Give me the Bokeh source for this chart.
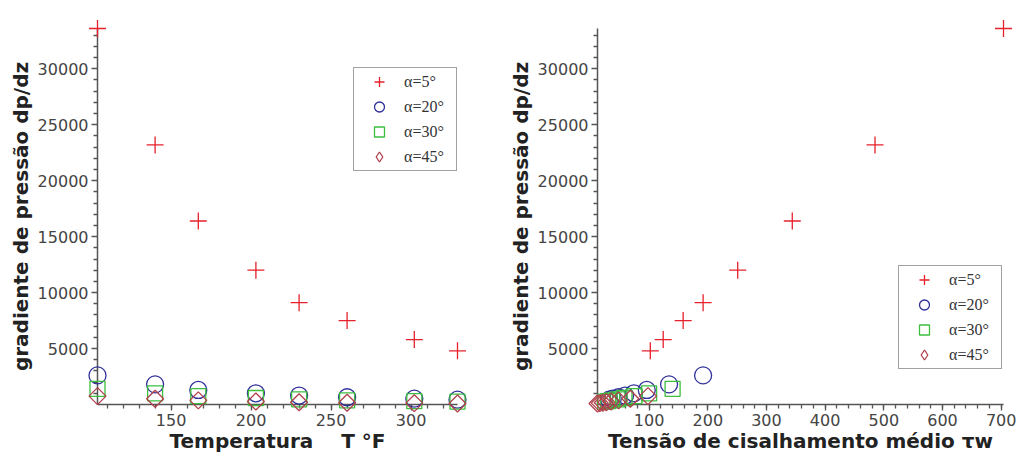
import math
from bokeh.plotting import figure
from bokeh.layouts import row
from bokeh.models import Range1d, FixedTicker, Legend, LegendItem
from bokeh.embed import file_html
from bokeh.resources import INLINE

# ---- data ----
temperature = [104, 140, 167, 203, 230, 260, 302, 329]          # T °F

dp_5 = [33600, 23200, 16400, 12000, 9100, 7500, 5800, 4800]
dp_20 = [2600, 1800, 1300, 1000, 800, 650, 520, 430]
dp_30 = [1400, 1000, 750, 580, 460, 370, 300, 250]
dp_45 = [750, 520, 370, 270, 205, 160, 120, 95]

tau_5 = [704, 485, 344, 251, 192, 158, 124, 102]
tau_20 = [192, 134, 96, 74, 59, 48, 38, 32]
tau_30 = [140, 100, 75, 58, 46, 37, 30, 25]
tau_45 = [98, 68, 48, 35, 27, 21, 16, 12]

series_labels = ["α=5°", "α=20°", "α=30°", "α=45°"]
y_major_ticks = [5000, 10000, 15000, 20000, 25000, 30000]
y_minor_ticks = [1000, 2000, 3000, 4000, 6000, 7000, 8000, 9000, 11000, 12000,
                 13000, 14000, 16000, 17000, 18000, 19000, 21000, 22000, 23000,
                 24000, 26000, 27000, 28000, 29000, 31000, 32000, 33000]

# ---- styles ----
styles = [
    dict(marker="cross", size=17, line_color="#e8202c", line_width=1.3, angle=0.0, legend_marker="cross"),
    dict(marker="circle", size=17, line_color="#30309a", line_width=1.3, angle=0.0, legend_marker="circle"),
    dict(marker="square", size=15, line_color="#3cbf3c", line_width=1.3, angle=0.0, legend_marker="square"),
    dict(marker="square", size=12, line_color="#b0404c", line_width=1.3, angle=math.pi / 4, legend_marker="diamond"),
]

AX = "#555555"
NAN = float("nan")


def build(xs_list, ys_list, x_label, width, min_border_left, min_border_right, legend_loc):
    all_x = [v for xs in xs_list for v in xs]
    all_y = [v for ys in ys_list for v in ys]
    p = figure(width=width, height=457, output_backend="svg", toolbar_location=None,
               x_range=Range1d(min(all_x), max(all_x)),
               y_range=Range1d(0, max(all_y)),
               min_border_left=min_border_left, min_border_right=min_border_right,
               min_border_top=28, min_border_bottom=53)
    p.outline_line_color = None
    p.xgrid.visible = False
    p.ygrid.visible = False
    p.background_fill_color = "white"

    p.yaxis.ticker = FixedTicker(ticks=y_major_ticks, minor_ticks=y_minor_ticks)

    for ax in (p.xaxis, p.yaxis):
        ax.axis_line_color = AX
        ax.axis_line_width = 1.5
        ax.major_tick_line_color = AX
        ax.minor_tick_line_color = AX
        ax.major_tick_line_width = 1.3
        ax.minor_tick_line_width = 1.3
        ax.major_tick_out = 6
        ax.major_tick_in = 0
        ax.minor_tick_out = 4
        ax.minor_tick_in = 0
        ax.major_label_text_font = "DejaVu Sans"
        ax.major_label_text_font_size = "16px"
        ax.major_label_text_color = "#444444"
        ax.axis_label_text_font = "DejaVu Sans"
        ax.axis_label_text_font_size = "20px"
        ax.axis_label_text_font_style = "bold"
        ax.axis_label_text_color = "#222222"
    p.xaxis.major_label_standoff = 3
    p.xaxis.axis_label_standoff = 0
    p.yaxis.major_label_standoff = 3
    p.yaxis.axis_label_standoff = 2
    p.xaxis.axis_label = x_label
    p.yaxis.axis_label = "gradiente de pressão dp/dz"

    items = []
    for xs, ys, st, lab in zip(xs_list, ys_list, styles, series_labels):
        r = p.scatter(xs, ys, marker=st["marker"], size=st["size"], angle=st["angle"],
                      fill_color=None, line_color=st["line_color"],
                      line_width=st["line_width"], level="overlay")
        if st["legend_marker"] != st["marker"]:
            # legend-only renderer (a single undrawn NaN point) so the legend shows a diamond
            r = p.scatter(x=[NAN], y=[NAN], marker=st["legend_marker"], size=st["size"],
                          fill_color=None, line_color=st["line_color"],
                          line_width=st["line_width"])
        items.append(LegendItem(label=lab, renderers=[r]))

    legend = Legend(items=items, location=legend_loc)
    legend.label_text_font = "Liberation Serif"
    legend.label_text_font_size = "16px"
    legend.label_text_color = "#333333"
    legend.border_line_color = "#444444"
    legend.border_line_width = 1.8
    legend.background_fill_color = "white"
    legend.background_fill_alpha = 1.0
    legend.glyph_height = 25
    legend.glyph_width = 48
    legend.label_height = 25
    legend.label_width = 51
    legend.label_standoff = 1
    legend.spacing = 0
    legend.padding = 1
    legend.margin = 0
    p.add_layout(legend)
    return p


left = build([temperature] * 4, [dp_5, dp_20, dp_30, dp_45],
             "Temperatura\u00a0\u00a0\u00a0\u00a0T\u00a0°F", 505, 97, 48, (256, 233))
right = build([tau_5, tau_20, tau_30, tau_45], [dp_5, dp_20, dp_30, dp_45],
              "Tensão de cisalhamento médio τw", 512, 92, 14, (301, 35))

layout = row(left, right)
open("out.html", "w").write(file_html(layout, INLINE))
